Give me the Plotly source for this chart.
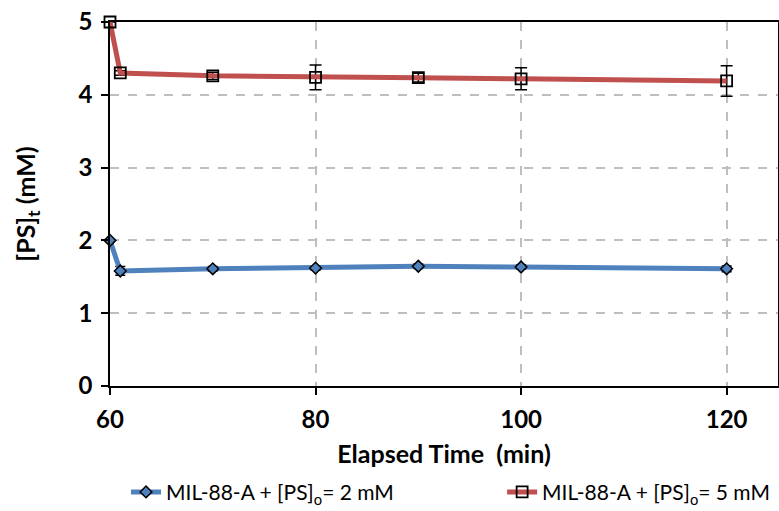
import plotly.graph_objects as go

time = [60, 61, 70, 80, 90, 100, 120]
ps_2mM = [2.00, 1.58, 1.61, 1.62, 1.645, 1.635, 1.61]
ps_2mM_err = [0.0, 0.06, 0.03, 0.03, 0.03, 0.03, 0.04]
ps_5mM = [5.00, 4.30, 4.26, 4.24, 4.235, 4.22, 4.19]
ps_5mM_err = [0.0, 0.03, 0.05, 0.17, 0.06, 0.15, 0.21]

x_ticks = [60, 80, 100, 120]
y_ticks = [0, 1, 2, 3, 4, 5]

BLUE = "#4F81BD"
RED = "#C0504D"
FONT = "Lato"

fig = go.Figure()
fig.add_trace(go.Scatter(
    x=time, y=ps_2mM, mode="lines+markers",
    name="MIL-88-A + [PS]<sub>o</sub>= 2 mM",
    line=dict(color=BLUE, width=5),
    marker=dict(symbol="diamond", size=9, color=BLUE, line=dict(color="black", width=1.5)),
    error_y=dict(type="data", array=ps_2mM_err, color="black", thickness=1.5, width=5),
    cliponaxis=False, legend="legend",
))
fig.add_trace(go.Scatter(
    x=time, y=ps_5mM, mode="lines+markers",
    name="MIL-88-A + [PS]<sub>o</sub>= 5 mM",
    line=dict(color=RED, width=5),
    marker=dict(symbol="square-open", size=11, color="black", line=dict(color="black", width=1.8)),
    error_y=dict(type="data", array=ps_5mM_err, color="black", thickness=1.5, width=6),
    cliponaxis=False, legend="legend2",
))

axis_common = dict(
    showline=True, linecolor="black", linewidth=1.5, mirror=True,
    ticks="outside", ticklen=7, tickwidth=1.5, tickcolor="black",
    showgrid=True, gridcolor="#BFBFBF", gridwidth=1.5, griddash="dash",
    zeroline=False, automargin=False,
    tickfont=dict(family=FONT, size=24, color="black", weight=700),
)

fig.update_layout(
    width=779, height=511,
    margin=dict(l=110, r=1, t=22, b=125, autoexpand=False),
    plot_bgcolor="white", paper_bgcolor="white",
    xaxis=dict(range=[60, 125], tickvals=x_ticks, ticklabelstandoff=4, **axis_common,
               title=dict(text="Elapsed Time  (min)", standoff=14,
                          font=dict(family=FONT, size=25, color="black", weight=700))),
    yaxis=dict(range=[0, 5], tickvals=y_ticks, ticklabelstandoff=4, **axis_common,
               title=dict(text="[PS]<sub>t</sub> (mM)", standoff=36,
                          font=dict(family=FONT, size=25, color="black", weight=700))),
    legend=dict(x=0.024, y=-0.292, xanchor="left", yanchor="middle",
                font=dict(family=FONT, size=21, color="black"), bgcolor="rgba(0,0,0,0)"),
    legend2=dict(x=0.587, y=-0.292, xanchor="left", yanchor="middle",
                 font=dict(family=FONT, size=21, color="black"), bgcolor="rgba(0,0,0,0)"),
    showlegend=True,
)

fig.write_html("out.html")
